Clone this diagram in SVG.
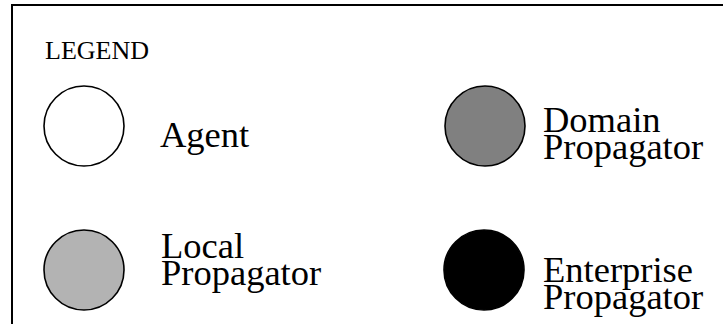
<svg xmlns="http://www.w3.org/2000/svg" width="724" height="324" viewBox="0 0 724 324">
  <style>
    .frame { fill: none; stroke: #000; stroke-width: 2; }
    .sym { stroke: #000; stroke-width: 1.6; }
    .label { font-family: "Liberation Serif", "Times New Roman", serif; font-size: 36.5px; fill: #000; }
    .title { font-family: "Liberation Serif", "Times New Roman", serif; font-size: 26px; fill: #000; }
  </style>
  <rect width="724" height="324" fill="#fff"/>
  <!-- legend frame (open on right and bottom) -->
  <path class="frame" d="M12,326 V5 H723"/>
  <text class="title" x="45" y="59">LEGEND</text>

  <g id="agent">
    <circle class="sym" cx="84" cy="126" r="40" fill="#fff"/>
    <text class="label" x="160" y="147">Agent</text>
  </g>

  <g id="domain-propagator">
    <circle class="sym" cx="485" cy="126" r="40" fill="#808080"/>
    <text class="label" x="543" y="132">Domain</text>
    <text class="label" x="543" y="159">Propagator</text>
  </g>

  <g id="local-propagator">
    <circle class="sym" cx="84" cy="270" r="40" fill="#b3b3b3"/>
    <text class="label" x="161" y="258">Local</text>
    <text class="label" x="161" y="285">Propagator</text>
  </g>

  <g id="enterprise-propagator">
    <circle class="sym" cx="484" cy="270" r="40" fill="#000"/>
    <text class="label" x="543" y="282">Enterprise</text>
    <text class="label" x="543" y="309">Propagator</text>
  </g>

  <g id="connectors"/>
</svg>
